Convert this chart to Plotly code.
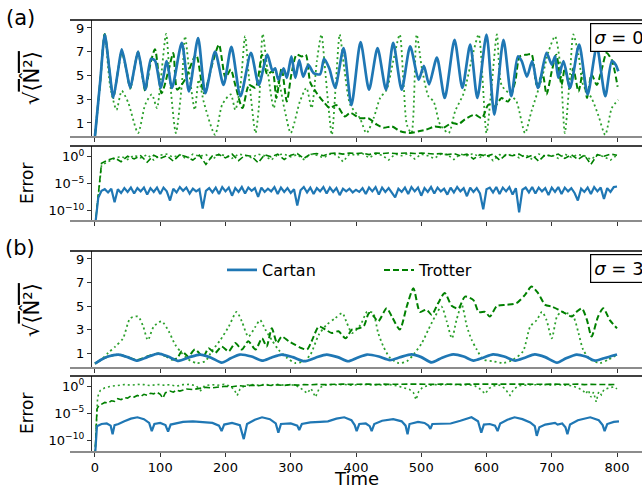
import numpy as np
import plotly.graph_objects as go

# ---------------- data: panel (a), sigma = 0 ----------------
a_cartan_t = [0, 8, 15, 22, 28, 35, 41, 48, 54, 60, 66, 72, 77, 86, 92, 101, 110, 118, 133, 144, 158, 169, 184, 197, 209, 223, 239, 251, 264, 272, 276, 281, 289, 294, 301, 307, 313, 319, 327, 335, 345, 351, 359, 368, 381, 393, 407, 420, 433, 446, 457, 470, 483, 496, 504, 512, 524, 536, 551, 563, 575, 586, 600, 612, 626, 638, 648, 654, 662, 670, 679, 692, 700, 705, 710, 718, 728, 742, 755, 769, 782, 792, 798, 802]
a_cartan_y = [-0.1, 4.5, 8.45, 5.5, 3.15, 5.3, 7.2, 5.5, 3.95, 5.5, 7.0, 5.3, 3.8, 6.4, 6.25, 3.95, 6.2, 3.95, 7.75, 3.65, 8.15, 3.5, 7.0, 4.2, 7.4, 3.25, 6.9, 4.2, 6.75, 5.4, 5.6, 4.65, 5.6, 4.8, 6.6, 4.8, 6.3, 4.9, 5.9, 5.2, 5.1, 6.4, 5.6, 3.95, 7.3, 2.5, 7.8, 3.8, 7.3, 3.8, 7.75, 3.8, 7.45, 4.65, 5.8, 4.25, 6.5, 3.1, 8.0, 3.95, 7.6, 3.1, 8.45, 1.7, 8.0, 3.25, 6.6, 6.2, 4.9, 6.2, 3.95, 6.9, 5.9, 6.6, 4.8, 6.2, 3.95, 7.6, 3.4, 7.45, 3.25, 6.2, 5.9, 5.35]

a_trotter_dash_t = [0, 8, 15, 22, 28, 35, 41, 48, 54, 60, 66, 72, 77, 85, 92, 102, 113, 120, 126, 138, 155, 167, 180, 190, 200, 208, 215, 226, 236, 246, 256, 264, 272, 278, 286, 294, 301, 309, 317, 323, 330, 340, 350, 360, 370, 383, 391, 406, 419, 432, 442, 455, 468, 483, 496, 508, 521, 534, 547, 557, 567, 582, 593, 603, 613, 623, 633, 644, 651, 662, 669, 677, 686, 692, 700, 707, 715, 720, 728, 733, 741, 748, 754, 761, 769, 777, 784, 792, 801]
a_trotter_dash_y = [-0.1, 4.5, 8.5, 5.5, 3.1, 5.3, 7.0, 5.5, 3.9, 5.5, 7.0, 5.2, 3.7, 6.0, 7.2, 3.5, 5.5, 6.9, 3.8, 4.65, 6.75, 3.5, 6.0, 7.6, 4.8, 5.5, 4.2, 2.25, 4.2, 3.95, 6.75, 5.1, 5.35, 3.1, 5.6, 2.8, 5.1, 6.75, 6.6, 6.75, 4.4, 3.5, 2.8, 2.25, 2.5, 1.55, 1.85, 1.4, 1.4, 0.85, 0.6, 0.7, 0.3, 0.15, 0.3, 0.45, 0.7, 0.6, 1.0, 0.9, 1.3, 1.7, 1.4, 2.55, 2.4, 3.1, 2.8, 4.5, 6.6, 6.75, 6.8, 4.2, 5.1, 3.4, 5.35, 6.75, 4.2, 5.6, 3.95, 5.6, 3.65, 5.35, 3.1, 5.1, 4.2, 5.6, 6.9, 6.3, 4.05]

a_trotter_dot_t = [0, 8, 15, 23, 33, 41, 51, 66, 77, 87, 95, 100, 109, 115, 124, 133, 138, 146, 153, 159, 167, 184, 195, 208, 215, 223, 230, 236, 246, 251, 257, 264, 274, 281, 291, 300, 314, 324, 332, 340, 347, 352, 358, 363, 369, 375, 382, 391, 406, 416, 427, 437, 447, 457, 467, 473, 478, 485, 493, 501, 511, 519, 529, 542, 552, 565, 580, 588, 600, 608, 616, 623, 636, 646, 659, 669, 685, 695, 705, 713, 720, 728, 733, 741, 748, 761, 771, 782, 792, 802]
a_trotter_dot_y = [-0.1, 4.5, 8.5, 4.2, 2.1, 3.7, 2.7, 0.15, 2.55, 3.4, 2.25, 4.2, 8.5, 4.5, 0.15, 4.2, 8.3, 4.5, 2.1, 4.65, 2.7, 0.0, 2.55, 3.4, 2.1, 4.2, 8.3, 4.8, 0.15, 2.25, 8.5, 5.6, 2.25, 4.5, 2.0, 0.15, 2.8, 3.95, 2.25, 6.2, 8.45, 5.9, 2.25, 0.0, 4.2, 8.45, 5.6, 2.55, 1.4, 0.15, 1.4, 3.1, 3.8, 6.2, 8.45, 4.2, 0.85, 0.15, 8.45, 5.6, 3.25, 2.8, 0.85, 0.15, 2.0, 3.5, 7.0, 8.45, 0.15, 4.2, 8.45, 4.2, 3.4, 2.8, 0.15, 2.0, 4.8, 7.0, 8.3, 5.9, 0.15, 5.1, 8.45, 6.75, 4.2, 3.1, 1.7, 0.0, 2.25, 2.95]

# error panel (a): log10 of error
a_err_cartan_log = [
    -13, -7.6, -6.3, -6.0, -6.6, -5.9, -8.4, -6.0, -6.7, -5.8, -6.5, -5.7, -6.8, -5.8, -6.4, -5.7, -7.0, -5.8, -6.5, -5.7,
    -6.9, -5.7, -6.4, -8.1, -5.9, -6.6, -5.6, -6.3, -5.7, -6.8, -5.9, -6.4, -6.0, -9.6, -6.3, -5.8, -6.6, -5.7, -6.9, -5.6,
    -6.4, -5.7, -7.2, -5.8, -6.5, -5.6, -6.8, -5.7, -6.3, -5.8, -7.4, -5.7, -6.5, -5.9, -6.4, -5.6, -6.9, -5.7, -6.5, -5.8,
    -6.7, -6.0, -9.0, -6.2, -5.6, -6.6, -5.7, -6.9, -5.8, -6.4, -5.6, -6.8, -5.7, -6.5, -5.8, -7.1, -5.9, -6.4, -5.9, -6.6,
    -6.1, -6.5, -5.8, -6.9, -5.7, -6.4, -5.6, -7.0, -5.7, -6.5, -5.8, -6.7, -7.5, -5.9, -6.5, -5.7, -6.9, -5.6, -6.4, -5.7,
    -7.2, -5.8, -6.5, -5.6, -6.8, -5.7, -6.4, -5.9, -7.0, -5.7, -6.6, -5.6, -6.4, -5.8, -7.3, -5.7, -6.5, -5.8, -6.8, -9.7,
    -6.0, -5.7, -6.6, -5.6, -6.9, -5.7, -6.4, -5.6, -7.0, -5.8, -10.3, -6.1, -5.7, -6.6, -5.6, -6.8, -5.7, -6.4, -5.8, -7.1,
    -5.7, -6.5, -5.6, -6.9, -5.7, -6.4, -5.8, -6.7, -8.1, -5.9, -6.5, -5.7, -6.9, -5.6, -6.4, -5.7, -7.8, -5.8, -6.5, -5.6,
    -5.5]
a_err_dash_log = [
    -13, -1.2, -0.6, -0.2, -0.9, 0.1, -0.4, 0.2, -1.0, 0.3, -0.3, 0.2, -0.8, 0.4, 0.0, -0.6, 0.3, -1.4, 0.2, 0.4,
    -0.2, 0.5, -0.7, 0.3, 0.1, -1.1, 0.4, 0.0, 0.5, -0.5, 0.3, 0.6, -0.3, 0.5, 0.6, 0.2, 0.6, 0.7, 0.5, 0.7,
    0.6, 0.7, 0.4, 0.7, 0.6, 0.7, 0.6, 0.7, 0.7, 0.6, 0.7, 0.6, 0.5, 0.6, 0.4, 0.6, 0.2, 0.5, -0.4, 0.4,
    0.1, 0.5, -0.6, 0.4, 0.2, 0.5, -0.2, 0.3, -0.8, 0.4, 0.1, 0.5, -0.3, 0.4, -0.5, 0.3, -1.4, 0.4, 0.1, 0.5,
    0.3]
a_err_dot_log = [
    -13, -1.6, -0.9, -0.3, 0.1, -0.5, 0.3, -0.2, 0.4, -0.6, 0.3, 0.5, -0.1, 0.4, -0.4, 0.5, 0.1, 0.4, -0.5, 0.5,
    0.2, -0.3, 0.5, 0.3, -0.2, 0.5, 0.2, -0.6, 0.4, 0.5, 0.0, 0.4, -0.5, 0.5, 0.3, -0.2, 0.5, 0.4, -0.9, 0.5,
    0.3, 0.6, -0.2, 0.5, 0.3, -0.6, 0.5, 0.2, 0.6, -0.4, 0.5, 0.2, -0.3, 0.5, 0.4, -0.5, 0.5, 0.2, 0.6, -0.1,
    0.5, -0.7, 0.4, 0.2, 0.5, -0.2, 0.4, -0.5, 0.5, 0.1, 0.4, -0.3, 0.5, -0.1, 0.4, 0.2, -0.5, 0.4, 0.0, -0.6,
    0.3]
a_err_cartan_t = list(range(0, 801, 5))
a_err_trotter_t = list(range(0, 801, 10))

# ---------------- data: panel (b), sigma = 3 ----------------
b_cartan_t = [0, 10, 20, 36, 50, 65, 80, 97, 112, 128, 145, 161, 178, 194, 208, 222, 240, 256, 270, 286, 303, 321, 338, 355, 372, 388, 402, 417, 435, 452, 468, 485, 500, 516, 532, 549, 565, 580, 595, 610, 627, 644, 659, 674, 690, 708, 722, 738, 752, 766, 780, 800]
b_cartan_y = [0.1, 0.45, 0.7, 0.86, 0.65, 0.35, 0.65, 0.94, 0.7, 0.33, 0.65, 0.87, 0.6, 0.18, 0.55, 0.87, 0.7, 0.35, 0.6, 0.87, 0.65, 0.3, 0.6, 0.87, 0.65, 0.3, 0.6, 0.87, 0.7, 0.4, 0.65, 0.88, 0.65, 0.2, 0.6, 0.88, 0.7, 0.35, 0.6, 0.88, 0.7, 0.35, 0.6, 0.88, 0.65, 0.18, 0.55, 0.87, 0.7, 0.35, 0.55, 0.87]

b_trotter_dash_t = [0, 10, 20, 36, 50, 65, 80, 97, 108, 118, 126, 133, 143, 153, 166, 174, 184, 194, 205, 215, 225, 235, 246, 256, 263, 271, 279, 286, 297, 307, 317, 325, 332, 343, 353, 363, 373, 384, 394, 404, 412, 420, 426, 434, 447, 455, 467, 478, 488, 498, 508, 516, 526, 536, 547, 557, 567, 580, 588, 598, 605, 616, 631, 646, 659, 669, 679, 690, 700, 710, 720, 731, 738, 746, 754, 761, 771, 779, 789, 800]
b_trotter_dash_y = [0.1, 0.45, 0.7, 0.86, 0.65, 0.4, 0.7, 0.95, 0.75, 0.45, 0.55, 1.15, 0.7, 1.3, 0.7, 1.4, 1.0, 1.55, 1.15, 1.85, 1.3, 2.0, 1.3, 2.25, 1.55, 3.1, 1.85, 2.4, 2.0, 1.7, 1.4, 1.3, 2.0, 3.25, 3.0, 2.7, 2.85, 2.25, 3.0, 3.1, 3.3, 4.4, 4.2, 3.7, 4.8, 4.1, 3.0, 5.0, 6.5, 4.5, 4.7, 4.25, 5.25, 6.1, 5.0, 4.8, 5.8, 5.5, 4.5, 4.5, 4.1, 5.0, 5.1, 5.25, 5.95, 6.65, 6.1, 5.1, 4.95, 4.7, 4.4, 4.1, 4.5, 4.8, 3.8, 2.4, 4.1, 4.8, 3.8, 3.1]

b_trotter_dot_t = [0, 10, 20, 31, 43, 54, 66, 74, 81, 90, 102, 113, 123, 133, 143, 156, 169, 179, 192, 205, 217, 225, 235, 246, 253, 261, 271, 281, 294, 307, 320, 330, 343, 355, 368, 379, 386, 394, 407, 417, 426, 434, 442, 452, 465, 478, 490, 501, 511, 521, 531, 539, 547, 554, 562, 570, 577, 585, 595, 610, 626, 641, 656, 667, 677, 685, 692, 700, 708, 715, 723, 733, 741, 748, 759, 774, 787, 800]
b_trotter_dot_y = [0.1, 0.45, 1.0, 1.55, 2.25, 3.95, 4.1, 3.25, 2.1, 3.25, 3.7, 2.85, 1.7, 1.0, 0.45, 0.15, 0.3, 1.15, 2.1, 3.25, 4.5, 3.7, 2.4, 3.25, 3.8, 3.0, 2.1, 1.3, 0.6, 0.15, 0.3, 0.85, 2.55, 3.4, 3.95, 4.4, 3.55, 2.7, 3.4, 4.5, 4.4, 2.7, 1.55, 0.6, 0.15, 0.3, 1.0, 1.85, 3.0, 4.1, 4.95, 3.7, 2.25, 3.8, 5.1, 3.25, 2.15, 1.3, 0.45, 0.3, 0.15, 0.45, 1.15, 3.25, 3.8, 4.5, 3.8, 2.25, 4.1, 4.5, 4.4, 4.1, 2.7, 1.3, 0.45, 0.15, 0.45, 0.85]

# error panel (b): log10 of error
b_err_cartan_t = [0, 3, 10, 18, 24, 27, 30, 36, 45, 55, 65, 75, 83, 87, 91, 100, 108, 112, 116, 125, 135, 150, 165, 180, 190, 194, 198, 210, 222, 228, 233, 245, 256, 268, 277, 281, 285, 300, 310, 313, 317, 330, 345, 357, 370, 382, 393, 398, 401, 405, 415, 421, 424, 428, 440, 457, 470, 476, 479, 482, 495, 505, 511, 514, 517, 530, 545, 560, 577, 587, 592, 596, 605, 613, 617, 621, 632, 643, 655, 667, 674, 677, 681, 690, 700, 705, 709, 716, 721, 724, 728, 740, 759, 772, 778, 781, 785, 795, 803]
b_err_cartan_log = [-13, -7.4, -7.0, -6.9, -7.3, -8.9, -7.2, -7.0, -6.5, -6.0, -5.75, -6.1, -6.8, -8.3, -7.0, -6.8, -7.2, -8.4, -7.1, -6.8, -6.6, -6.5, -6.6, -6.8, -7.3, -8.3, -7.1, -6.8, -7.2, -9.8, -7.0, -6.2, -5.75, -6.1, -6.9, -8.6, -7.0, -6.9, -7.3, -8.1, -7.0, -6.7, -6.6, -6.5, -6.0, -5.75, -6.3, -7.2, -8.3, -7.0, -6.9, -7.4, -8.3, -7.0, -6.4, -6.1, -6.5, -7.3, -8.9, -7.0, -6.6, -6.8, -7.3, -7.9, -7.0, -6.9, -6.9, -6.4, -5.75, -6.5, -8.6, -7.1, -7.0, -7.3, -8.3, -6.9, -6.2, -5.75, -6.1, -6.7, -7.4, -9.2, -7.6, -7.1, -6.9, -6.8, -7.1, -6.9, -7.6, -8.9, -7.1, -6.3, -5.75, -6.3, -7.2, -8.3, -7.0, -6.6, -6.5]

b_err_dash_t = [0, 3, 6, 10, 15, 20, 25, 30, 35, 40, 45, 50, 55, 60, 65, 70, 75, 80, 85, 90, 95, 100, 104, 108, 115, 120, 125, 130, 140, 150, 160, 170, 180, 190, 200, 210, 220, 230, 240, 250, 260, 270, 280, 290, 300, 310, 320, 330, 340, 350, 360, 370, 380, 390, 400, 410, 420, 430, 440, 450, 460, 470, 480, 490, 500, 510, 520, 530, 540, 550, 560, 570, 580, 590, 600, 610, 620, 630, 640, 650, 660, 670, 680, 690, 700, 710, 720, 730, 740, 750, 760, 770, 780, 790, 800]
b_err_dash_log = [-13, -4.2, -3.6, -3.4, -3.0, -3.1, -2.7, -2.8, -2.3, -2.5, -2.1, -2.2, -1.8, -2.0, -1.7, -1.9, -1.5, -1.7, -1.3, -1.4, -1.1, -1.5, -2.2, -1.2, -0.9, -1.1, -0.7, -0.9, -0.5, -0.6, -0.4, -0.2, -0.3, -0.1, 0.0, -0.1, 0.1, 0.0, 0.2, 0.1, 0.25, 0.15, 0.25, 0.15, 0.3, 0.2, 0.3, 0.25, 0.35, 0.3, 0.35, 0.3, 0.4, 0.35, 0.4, 0.35, 0.4, 0.3, 0.4, 0.35, 0.4, 0.35, 0.4, 0.4, 0.35, 0.4, 0.35, 0.4, 0.35, 0.4, 0.35, 0.4, 0.35, 0.4, 0.4, 0.35, 0.4, 0.4, 0.35, 0.4, 0.4, 0.35, 0.4, 0.35, 0.4, 0.35, 0.4, 0.35, 0.4, 0.3, 0.35, 0.3, 0.35, 0.3, 0.35]

b_err_dot_t = [0, 4, 8, 15, 25, 35, 45, 55, 65, 75, 85, 95, 105, 115, 125, 135, 145, 155, 162, 168, 178, 188, 198, 208, 214, 218, 222, 230, 240, 250, 260, 270, 280, 290, 300, 310, 318, 325, 331, 338, 344, 352, 362, 372, 382, 392, 402, 412, 422, 432, 442, 452, 462, 472, 482, 488, 492, 496, 502, 512, 522, 532, 542, 552, 562, 572, 582, 590, 598, 604, 612, 620, 628, 636, 642, 650, 660, 670, 680, 690, 700, 710, 720, 730, 740, 748, 752, 756, 760, 764, 768, 772, 776, 780, 788, 795, 800]
b_err_dot_log = [-13, -2.0, -0.8, -0.3, 0.0, 0.2, 0.3, 0.2, 0.35, 0.3, 0.1, 0.35, 0.2, 0.3, 0.0, 0.3, 0.35, 0.1, -0.8, 0.1, 0.3, 0.2, 0.35, 0.0, -0.8, -1.7, -0.6, 0.2, 0.3, 0.2, 0.35, 0.25, 0.35, 0.2, 0.3, 0.0, -0.6, -1.3, -0.4, -2.0, -0.3, 0.2, 0.3, 0.25, 0.35, 0.2, 0.3, 0.35, 0.25, 0.3, 0.2, 0.3, 0.1, -0.2, -0.6, -1.2, -2.5, -1.0, -0.2, 0.2, 0.3, 0.25, 0.35, 0.3, 0.2, 0.3, 0.1, -0.5, -1.4, -0.4, 0.1, 0.2, -0.4, -1.7, -0.5, 0.1, 0.25, 0.3, 0.25, 0.3, 0.2, 0.3, 0.2, 0.1, -0.3, -0.8, -1.4, -0.7, -2.0, -1.1, -2.9, -1.0, -1.6, -0.6, -0.3, -0.1, -0.5]

y_ticks_n = [1, 3, 5, 7, 9]
err_tick_exp = [-10, -5, 0]
x_ticks = [0, 100, 200, 300, 400, 500, 600, 700, 800]

# ---------------- styling / layout ----------------
BLUE = "#1f77b4"
GREEN_DASH = "#008000"
GREEN_DOT = "#2ca02c"
FONT = "DejaVu Sans"

W, H = 642, 487
ML, MB = 70, 36
PH = H - MB  # plot-area height in px (top margin 0)

def dom(top_px, bot_px):
    return [(PH - bot_px) / PH, (PH - top_px) / PH]

panels = {
    "y": dom(20, 136),
    "y2": dom(146, 220),
    "y3": dom(251, 367),
    "y4": dom(376, 451),
}
XR = [-38.3, 838.3]
YPOS = 21 / 572

fig = go.Figure()

def add(x, y, ax, color, dash, width, name=None, legend=False, shape="linear"):
    fig.add_trace(go.Scatter(
        x=x, y=y, mode="lines", xaxis=ax[0], yaxis=ax[1],
        line=dict(color=color, dash=dash, width=width, shape=shape, smoothing=0.7),
        name=name, showlegend=legend, hoverinfo="skip"))

# panel (a)
add(a_trotter_dot_t, a_trotter_dot_y, ("x", "y"), GREEN_DOT, "2px,3px", 1.8, shape="spline")
add(a_trotter_dash_t, a_trotter_dash_y, ("x", "y"), GREEN_DASH, "6px,3px", 2.0, shape="spline")
add(a_cartan_t, a_cartan_y, ("x", "y"), BLUE, "solid", 2.7, shape="spline")
# error (a)
add(a_err_trotter_t, [10 ** v for v in a_err_dot_log], ("x2", "y2"), GREEN_DOT, "2px,3px", 1.6)
add(a_err_trotter_t, [10 ** v for v in a_err_dash_log], ("x2", "y2"), GREEN_DASH, "6px,3px", 1.6)
add(a_err_cartan_t, [10 ** v for v in a_err_cartan_log], ("x2", "y2"), BLUE, "solid", 2.2)
# panel (b)
add(b_trotter_dot_t, b_trotter_dot_y, ("x3", "y3"), GREEN_DOT, "2px,3px", 1.8, shape="spline")
add(b_trotter_dash_t, b_trotter_dash_y, ("x3", "y3"), GREEN_DASH, "6px,3px", 2.0, shape="spline")
add(b_cartan_t, b_cartan_y, ("x3", "y3"), BLUE, "solid", 2.7, name="Cartan", legend=True, shape="spline")
# error (b)
add(b_err_dot_t, [10 ** v for v in b_err_dot_log], ("x4", "y4"), GREEN_DOT, "2px,3px", 1.6)
add(b_err_dash_t, [10 ** v for v in b_err_dash_log], ("x4", "y4"), GREEN_DASH, "6px,3px", 1.6)
add(b_err_cartan_t, [10 ** v for v in b_err_cartan_log], ("x4", "y4"), BLUE, "solid", 2.2)
# legend entry for Trotter (placed after Cartan)
fig.add_trace(go.Scatter(x=[None], y=[None], mode="lines", xaxis="x3", yaxis="y3",
                         line=dict(color=GREEN_DASH, dash="6px,3px", width=2.0),
                         name="Trotter", showlegend=True))

tickfont = dict(family=FONT, size=13, color="#000")
xcommon = dict(range=XR, domain=[0, 1], showgrid=False, zeroline=False,
               showline=True, linecolor="#8c8c8c", linewidth=1.6,
               ticks="outside", ticklen=4, tickwidth=1, tickcolor="#333",
               tickvals=x_ticks, tickfont=tickfont)
ycommon = dict(anchor="free", position=YPOS, showgrid=False, zeroline=False,
               showline=True, linecolor="#333", linewidth=1.2,
               ticks="outside", ticklen=4, tickwidth=1, tickcolor="#333",
               tickfont=tickfont)

err_vals = [10.0 ** e for e in err_tick_exp]
err_text = ["10<sup>%s</sup>" % (str(e).replace("-", "\u2212")) for e in err_tick_exp]

fig.update_layout(
    width=W, height=H,
    margin=dict(l=ML, r=0, t=0, b=MB, pad=0),
    paper_bgcolor="white", plot_bgcolor="white",
    font=dict(family=FONT, color="#000"),
    xaxis=dict(xcommon, anchor="y", showticklabels=False),
    xaxis2=dict(xcommon, anchor="y2", showticklabels=False),
    xaxis3=dict(xcommon, anchor="y3", showticklabels=False),
    xaxis4=dict(xcommon, anchor="y4", showticklabels=True),
    yaxis=dict(ycommon, domain=panels["y"], range=[-0.1, 9.67], tickvals=y_ticks_n),
    yaxis2=dict(ycommon, domain=panels["y2"], type="log", range=[-11.7, 2.0],
                tickvals=err_vals, ticktext=err_text),
    yaxis3=dict(ycommon, domain=panels["y3"], range=[-0.19, 9.68], tickvals=y_ticks_n),
    yaxis4=dict(ycommon, domain=panels["y4"], type="log", range=[-12.0, 1.9],
                tickvals=err_vals, ticktext=err_text),
    showlegend=True,
    legend=dict(orientation="h", x=(222 - ML) / 572, y=(PH - 270) / PH,
                xanchor="left", yanchor="middle", bgcolor="rgba(0,0,0,0)",
                font=dict(family=FONT, size=16), entrywidth=112, entrywidthmode="pixels",
                traceorder="normal"),
)

# top spines
shapes = []
for key in ["y", "y2", "y3", "y4"]:
    top = panels[key][1]
    shapes.append(dict(type="line", xref="paper", yref="paper", x0=0, x1=1, y0=top, y1=top,
                       line=dict(color="#000", width=1.3)))
fig.update_layout(shapes=shapes)

def px_x(p):
    return (p - ML) / 572

def px_y(p):
    return (PH - p) / PH

sqrt_label = "\u221a<span style='text-decoration:overline'>\u27e8N\u0302\u00b2\u27e9</span>"
ann = [
    dict(text="(a)", x=px_x(20), y=px_y(18), font=dict(size=21)),
    dict(text="(b)", x=px_x(20), y=px_y(248), font=dict(size=21)),
    dict(text=sqrt_label, x=px_x(31), y=px_y(78), textangle=-90, font=dict(size=21)),
    dict(text=sqrt_label, x=px_x(31), y=px_y(310), textangle=-90, font=dict(size=21)),
    dict(text="Error", x=px_x(27), y=px_y(184), textangle=-90, font=dict(size=17)),
    dict(text="Error", x=px_x(27), y=px_y(414), textangle=-90, font=dict(size=17)),
    dict(text="Time", x=px_x(356), y=px_y(479), font=dict(size=18)),
    dict(text="<i>\u03c3</i> = 0", x=px_x(590), y=px_y(37), xanchor="left", font=dict(size=18),
         bordercolor="#000", borderwidth=1.2, borderpad=3, bgcolor="white"),
    dict(text="<i>\u03c3</i> = 3", x=px_x(590), y=px_y(268), xanchor="left", font=dict(size=18),
         bordercolor="#000", borderwidth=1.2, borderpad=3, bgcolor="white"),
]
for a in ann:
    a.setdefault("xanchor", "center")
    a.update(xref="paper", yref="paper", showarrow=False, yanchor="middle")
    a["font"] = dict(family=FONT, color="#000", **a["font"])
fig.update_layout(annotations=ann)

fig.write_html("out.html", config={"displayModeBar": False},
               post_script="document.body.style.margin='0';document.body.style.overflow='hidden';")
